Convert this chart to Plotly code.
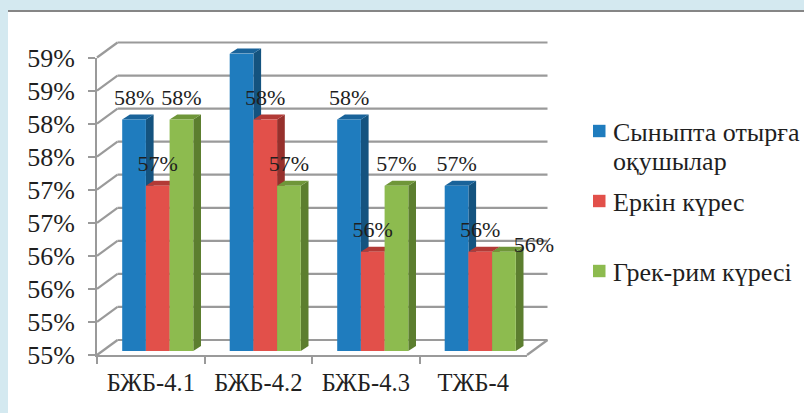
import plotly.graph_objects as go

# Chart data
categories = ["БЖБ-4.1", "БЖБ-4.2", "БЖБ-4.3", "ТЖБ-4"]
series_lines = [["Сыныпта отырға", "оқушылар"], ["Еркін күрес"], ["Грек-рим күресі"]]
class_students = [0.584, 0.594, 0.584, 0.574]
freestyle = [0.574, 0.584, 0.564, 0.564]
greco_roman = [0.584, 0.574, 0.574, 0.564]
axis_ticks = [0.549, 0.554, 0.559, 0.564, 0.569, 0.574, 0.579, 0.584, 0.589, 0.594]

# Styling
FACE = ["#1f7cbe", "#e2504a", "#8dbb4f"]
TOP = ["#19639a", "#b23a36", "#6f9639"]
SIDE = ["#14537f", "#96302c", "#5c7e2f"]
GRID = "#9a9a9a"
INK = "#1f1f1f"
FONT = "'Liberation Serif', 'Times New Roman', 'DejaVu Serif', serif"
W, H = 804, 413

# Pixel scale of the front plane
X0, X1 = 97.0, 527.0
Y0, Y1 = 355.0, 57.5
Y_MIN, Y_MAX = axis_ticks[0], axis_ticks[-1]
PX_PER_CAT = (X1 - X0) / len(categories)
PX_PER_VAL = (Y0 - Y1) / (Y_MAX - Y_MIN)


def dom_x(a, b):
    return [a / W, b / W]


def dom_y(bottom, top):
    return [1 - bottom / H, 1 - top / H]


def cat_dx(px):
    return px / PX_PER_CAT


def val_dy(px):
    return px / PX_PER_VAL


# Faux-3D offsets, in data units
WALL_DX, WALL_DY = cat_dx(20.5), val_dy(15)
BAR_DX, BAR_DY = cat_dx(7), val_dy(4)
SIDE_DX, TOP_DY = cat_dx(7.7), val_dy(5)
BAR_W = cat_dx(23.7)

fig = go.Figure()

# Front axes: ticks and labels only
fig.add_trace(go.Scatter(x=categories, y=[Y_MIN] * len(categories), mode="none",
                         showlegend=False, hoverinfo="skip", xaxis="x", yaxis="y"))


def frame_line(xs, ys):
    fig.add_trace(go.Scatter(x=xs, y=ys, mode="lines", line=dict(color=GRID, width=2.2),
                             showlegend=False, hoverinfo="skip", xaxis="x2", yaxis="y2"))


# Back wall gridlines and the diagonals running back from the value axis
left, right = -0.5, len(categories) - 0.5
for t in axis_ticks:
    frame_line([left + WALL_DX, right + WALL_DX], [t + WALL_DY, t + WALL_DY])
    frame_line([left, left + WALL_DX], [t, t + WALL_DY])
frame_line([right, right + WALL_DX], [Y_MIN, Y_MIN + WALL_DY])

# Side and top faces of each bar, back to front along the series
all_series = [class_students, freestyle, greco_roman]
n = len(all_series)
for k, values in enumerate(all_series):
    for i, v in enumerate(values):
        xl = i - n * BAR_W / 2 + k * BAR_W + BAR_DX
        xr = xl + BAR_W
        yb = Y_MIN + BAR_DY
        yt = v + BAR_DY
        fig.add_trace(go.Scatter(
            x=[xr, xr + SIDE_DX, xr + SIDE_DX, xr, xr],
            y=[yb, yb + TOP_DY, yt + TOP_DY, yt, yb],
            mode="lines", fill="toself", fillcolor=SIDE[k], line=dict(width=0),
            showlegend=False, hoverinfo="skip", xaxis="x2", yaxis="y2"))
        fig.add_trace(go.Scatter(
            x=[xl, xr, xr + SIDE_DX, xl + SIDE_DX, xl],
            y=[yt, yt, yt + TOP_DY, yt + TOP_DY, yt],
            mode="lines", fill="toself", fillcolor=TOP[k], line=dict(width=0),
            showlegend=False, hoverinfo="skip", xaxis="x2", yaxis="y2"))

# Front faces; each bar starts at the axis floor and rises to its value
for k, values in enumerate(all_series):
    fig.add_trace(go.Bar(x=list(range(len(categories))), y=[v - Y_MIN for v in values],
                         width=BAR_W, offset=-n * BAR_W / 2 + k * BAR_W,
                         base=Y_MIN, marker=dict(color=FACE[k], line=dict(width=0)),
                         name=" ".join(series_lines[k]), showlegend=False,
                         xaxis="x3", yaxis="y3"))

# Value labels above each bar
LABEL_LIFT = val_dy(9)
for k, values in enumerate(all_series):
    xs = [i - n * BAR_W / 2 + (k + 0.5) * BAR_W for i in range(len(values))]
    ys = [v + LABEL_LIFT for v in values]
    if k == 2:
        # The last green label sits beside its bar
        xs[3] += cat_dx(30)
        ys[3] -= val_dy(15)
    fig.add_trace(go.Scatter(x=xs, y=ys, mode="text",
                             text=[f"{v * 100:.0f}%" for v in values],
                             textposition="top center",
                             textfont=dict(family=FONT, size=22, color=INK),
                             cliponaxis=False, showlegend=False, hoverinfo="skip",
                             xaxis="x3", yaxis="y3"))

axis_off = dict(visible=False, fixedrange=True)

# The frame subplot extends past the front plane so the depth faces are never clipped
FR_L, FR_R, FR_B, FR_T = 60.0, 600.0, 390.0, 10.0

# Key at the right: a square swatch and its text for each series
KEY_SWATCH_X = 593
KEY_TEXT_X = 612
KEY_ROWS = [131, 201, 271]
KEY_LINE_STEP = 29
key_shapes = []
key_notes = []
for k, lines in enumerate(series_lines):
    yc = KEY_ROWS[k]
    key_shapes.append(dict(type="rect", xref="paper", yref="paper",
                           x0=KEY_SWATCH_X / W, x1=(KEY_SWATCH_X + 12.5) / W,
                           y0=1 - (yc + 6.2) / H, y1=1 - (yc - 6.2) / H,
                           fillcolor=FACE[k], line=dict(width=0), layer="above"))
    for j, line in enumerate(lines):
        key_notes.append(dict(xref="paper", yref="paper", x=KEY_TEXT_X / W,
                              y=1 - (yc + 1 + j * KEY_LINE_STEP) / H,
                              text=line, showarrow=False, xanchor="left", yanchor="middle",
                              borderpad=0, font=dict(family=FONT, size=26, color=INK)))

fig.update_layout(
    width=W, height=H,
    margin=dict(l=0, r=0, t=0, b=0, autoexpand=False),
    paper_bgcolor="#d4e9f0",
    plot_bgcolor="rgba(0,0,0,0)",
    barmode="overlay",
    showlegend=False,
    annotations=key_notes,
    shapes=[
        dict(type="rect", xref="paper", yref="paper", x0=8 / W, x1=1, y0=0, y1=1 - 11 / H,
             fillcolor="#ffffff", line=dict(width=0), layer="below"),
        dict(type="line", xref="paper", yref="paper", x0=8 / W, x1=1, y0=1 - 11 / H, y1=1 - 11 / H,
             line=dict(color="#868686", width=2), layer="below"),
    ] + key_shapes,
    xaxis=dict(type="category", categoryorder="array", categoryarray=categories,
               domain=dom_x(X0, X1), range=[-0.5, len(categories) - 0.5],
               tickson="boundaries", ticks="outside", ticklen=7, tickwidth=2, tickcolor=GRID,
               showline=True, linecolor=GRID, linewidth=2, showgrid=False,
               tickfont=dict(family=FONT, size=24.5, color=INK), ticklabelstandoff=5, fixedrange=True,
               anchor="y"),
    yaxis=dict(domain=dom_y(Y0, Y1), range=[Y_MIN, Y_MAX], tickmode="array", tickvals=axis_ticks,
               tickformat=".0%", ticks="outside", ticklen=7, tickwidth=2, tickcolor=GRID,
               showline=True, linecolor=GRID, linewidth=2, showgrid=False, zeroline=False,
               tickfont=dict(family=FONT, size=26, color=INK), ticklabelstandoff=8, fixedrange=True,
               anchor="x"),
    xaxis2=dict(domain=dom_x(FR_L, FR_R), anchor="y2",
                range=[left + (FR_L - X0) / PX_PER_CAT, left + (FR_R - X0) / PX_PER_CAT], **axis_off),
    yaxis2=dict(domain=dom_y(FR_B, FR_T), anchor="x2",
                range=[Y_MIN + (Y0 - FR_B) / PX_PER_VAL, Y_MIN + (Y0 - FR_T) / PX_PER_VAL], **axis_off),
    xaxis3=dict(domain=dom_x(X0 + 7, X1 + 7), anchor="y3", range=[left, right], **axis_off),
    yaxis3=dict(domain=dom_y(Y0 - 4, Y1 - 4), anchor="x3", range=[Y_MIN, Y_MAX], **axis_off),
)

fig.write_html("out.html")
